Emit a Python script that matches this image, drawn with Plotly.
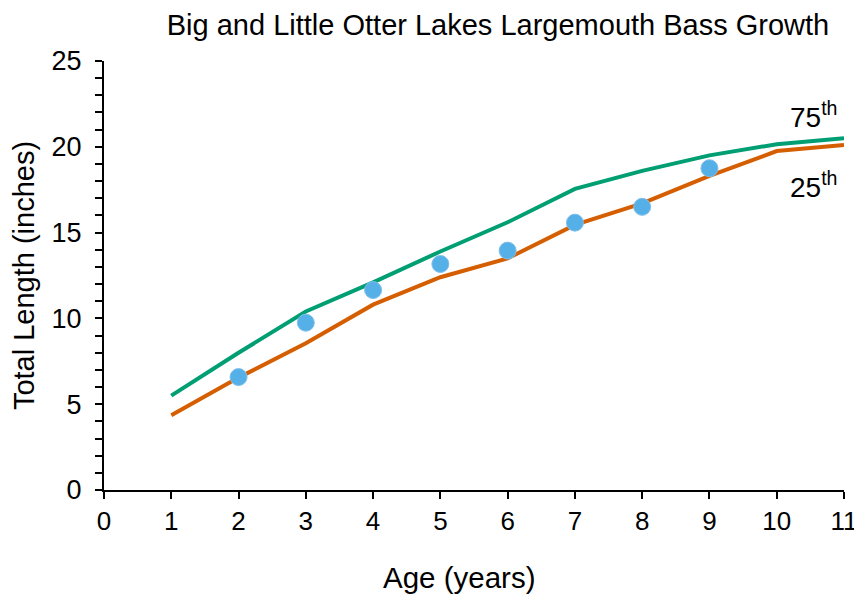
import plotly.graph_objects as go

ages = [1, 2, 3, 4, 5, 6, 7, 8, 9, 10, 11]
p75 = [5.5, 8.0, 10.4, 12.1, 13.9, 15.6, 17.55, 18.6, 19.5, 20.15, 20.5]
p25 = [4.35, 6.55, 8.55, 10.8, 12.4, 13.5, 15.45, 16.7, 18.3, 19.75, 20.1]
obs_ages = [2, 3, 4, 5, 6, 7, 8, 9]
obs_len = [6.58, 9.75, 11.65, 13.17, 13.95, 15.58, 16.5, 18.75]
x_ticks = list(range(0, 12))
y_ticks = [0, 5, 10, 15, 20, 25]

font = "Liberation Sans, Arial, sans-serif"

# the page body adds an 8px margin, so the figure is 8px smaller and shifted
W, H = 854, 589
L, R, T, B = 96, 18, 53, 107
PW, PH = W - L - R, H - T - B

fig = go.Figure()
fig.add_trace(go.Scatter(x=ages, y=p75, mode="lines",
                         line=dict(color="#009E73", width=4), name="75th"))
fig.add_trace(go.Scatter(x=ages, y=p25, mode="lines",
                         line=dict(color="#D55E00", width=4), name="25th"))
fig.add_trace(go.Scatter(x=obs_ages, y=obs_len, mode="markers",
                         marker=dict(color="#56B0E8", size=17,
                                     line=dict(color="#7FBFEA", width=1)),
                         name="Observed"))

fig.update_layout(
    width=W, height=H,
    margin=dict(l=L, r=R, t=T, b=B),
    paper_bgcolor="white", plot_bgcolor="white",
    showlegend=False,
    font=dict(family=font, color="black"),
    title=dict(text="Big and Little Otter Lakes Largemouth Bass Growth",
               x=490 / W, xanchor="center", y=1 - 17 / H, yanchor="middle",
               font=dict(size=29, family=font, color="black")),
)
fig.update_xaxes(range=[0, 11], tickmode="array", tickvals=x_ticks,
                 ticks="outside", ticklen=7, tickwidth=2, tickcolor="black",
                 showline=True, linecolor="black", linewidth=2,
                 showgrid=False, zeroline=False, automargin=False,
                 tickfont=dict(size=26, family=font))
fig.update_yaxes(range=[0, 25], tickmode="array", tickvals=y_ticks,
                 ticks="outside", ticklen=7, tickwidth=2, tickcolor="black",
                 minor=dict(dtick=1, ticks="outside", ticklen=7, tickwidth=2, tickcolor="black", showgrid=False),
                 showline=True, linecolor="black", linewidth=2,
                 showgrid=False, zeroline=False, automargin=False,
                 ticklabelstandoff=8,
                 tickfont=dict(size=27, family=font),
                 title=dict(text="Total Length (inches)", font=dict(size=29, family=font), standoff=8))

# x-axis title, placed slightly left of the plot centre as in the reference
fig.add_annotation(x=(451 - L) / PW, y=-(569 - (H - B)) / PH, xref="paper", yref="paper",
                   text="Age (years)", showarrow=False, xanchor="center", yanchor="middle",
                   font=dict(size=29.5, family=font))

fig.add_annotation(x=11, y=21.85, xref="x", yref="y", text="75<sup>th</sup>",
                   showarrow=False, xanchor="right", xshift=-4, font=dict(size=28, family=font))
fig.add_annotation(x=11, y=17.75, xref="x", yref="y", text="25<sup>th</sup>",
                   showarrow=False, xanchor="right", xshift=-4, font=dict(size=28, family=font))

fig.write_html("out.html")
